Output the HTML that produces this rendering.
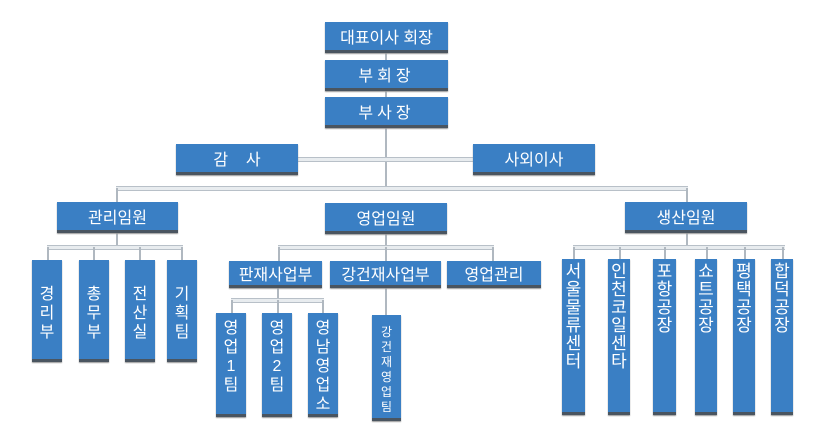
<!DOCTYPE html>
<html><head><meta charset="utf-8"><style>
body{margin:0;width:822px;height:436px;background:#fff;position:relative;overflow:hidden;font-family:"Liberation Sans","Noto Sans CJK KR","NanumGothic",sans-serif}
.b{position:absolute;background:#3a7fc4;color:#fff;box-sizing:border-box;border-bottom:3px solid #4a5560;box-shadow:0 1px 1px #999;display:flex;align-items:center;justify-content:center;font-size:16px;white-space:nowrap}
.v{position:absolute;background:#3a7fc4;color:#fff;box-sizing:border-box;border-bottom:3px solid #4a5560;box-shadow:0 1px 1px #999;text-align:center;font-size:16px;line-height:16px;padding-top:6px}
.h{position:absolute;height:3px;border-top:1px solid #b8c0c8;border-bottom:1px solid #b8c0c8;background:#e8ecef}
.l{position:absolute;width:2px;background:#b0b8c0}
</style></head><body>
<div class="l" style="left:385px;top:50px;height:140px"></div>
<div class="h" style="left:296px;top:157px;width:180px"></div>
<div class="h" style="left:116px;top:186px;width:572px"></div>
<div class="l" style="left:116px;top:188px;height:16px"></div>
<div class="l" style="left:686px;top:188px;height:16px"></div>
<div class="l" style="left:116px;top:230px;height:16px"></div>
<div class="l" style="left:385px;top:230px;height:16px"></div>
<div class="l" style="left:686px;top:230px;height:16px"></div>
<div class="h" style="left:47px;top:245px;width:136px"></div>
<div class="l" style="left:47px;top:247px;height:14px"></div>
<div class="l" style="left:93px;top:247px;height:14px"></div>
<div class="l" style="left:139px;top:247px;height:14px"></div>
<div class="l" style="left:181px;top:247px;height:14px"></div>
<div class="h" style="left:278px;top:245px;width:216px"></div>
<div class="l" style="left:278px;top:247px;height:14px"></div>
<div class="l" style="left:385px;top:247px;height:14px"></div>
<div class="l" style="left:492px;top:247px;height:14px"></div>
<div class="h" style="left:573px;top:245px;width:212px"></div>
<div class="l" style="left:573px;top:247px;height:13px"></div>
<div class="l" style="left:619px;top:247px;height:13px"></div>
<div class="l" style="left:664px;top:247px;height:13px"></div>
<div class="l" style="left:706px;top:247px;height:13px"></div>
<div class="l" style="left:744px;top:247px;height:13px"></div>
<div class="l" style="left:782px;top:247px;height:13px"></div>
<div class="l" style="left:277px;top:286px;height:14px"></div>
<div class="h" style="left:231px;top:298px;width:93px"></div>
<div class="l" style="left:231px;top:300px;height:14px"></div>
<div class="l" style="left:277px;top:300px;height:14px"></div>
<div class="l" style="left:322px;top:300px;height:14px"></div>
<div class="l" style="left:385px;top:286px;height:30px"></div>
<div class="b" style="left:325px;top:22px;width:123px;height:31px">대표이사 회장</div>
<div class="b" style="left:325px;top:60px;width:123px;height:31px;letter-spacing:4px">부회장</div>
<div class="b" style="left:325px;top:97px;width:123px;height:31px;letter-spacing:4px">부사장</div>
<div class="b" style="left:176px;top:144px;width:122px;height:31px">감&nbsp;&nbsp;&nbsp;&nbsp;사</div>
<div class="b" style="left:473px;top:144px;width:122px;height:31px">사외이사</div>
<div class="b" style="left:57px;top:202px;width:121px;height:31px">관리임원</div>
<div class="b" style="left:325px;top:203px;width:122px;height:31px">영업임원</div>
<div class="b" style="left:625px;top:202px;width:122px;height:31px">생산임원</div>
<div class="b" style="left:229px;top:261px;width:93px;height:27px">판재사업부</div>
<div class="b" style="left:330px;top:261px;width:111px;height:27px">강건재사업부</div>
<div class="b" style="left:447px;top:261px;width:94px;height:27px">영업관리</div>
<div class="v" style="left:32px;top:260px;width:30px;height:102px;padding-top:25px;line-height:19px">경<br>리<br>부</div>
<div class="v" style="left:79px;top:260px;width:30px;height:102px;padding-top:25px;line-height:19px">총<br>무<br>부</div>
<div class="v" style="left:125px;top:260px;width:30px;height:102px;padding-top:25px;line-height:19px">전<br>산<br>실</div>
<div class="v" style="left:167px;top:260px;width:30px;height:102px;padding-top:25px;line-height:19px">기<br>획<br>팀</div>
<div class="v" style="left:216px;top:313px;width:30px;height:104px;line-height:19px">영<br>업<br>1<br>팀</div>
<div class="v" style="left:262px;top:313px;width:30px;height:104px;line-height:19px">영<br>업<br>2<br>팀</div>
<div class="v" style="left:308px;top:313px;width:30px;height:104px;line-height:19px">영<br>남<br>영<br>업<br>소</div>
<div class="v" style="left:372px;top:315px;width:29px;height:106px;font-size:12px;line-height:15px;padding-top:10px">강<br>건<br>재<br>영<br>업<br>팀</div>
<div class="v" style="left:562px;top:259px;width:23px;height:156px;font-size:17px;line-height:18px;padding-top:4px">서<br>울<br>물<br>류<br>센<br>터</div>
<div class="v" style="left:608px;top:259px;width:22px;height:156px;font-size:17px;line-height:18px;padding-top:4px">인<br>천<br>코<br>일<br>센<br>타</div>
<div class="v" style="left:653px;top:259px;width:23px;height:156px;font-size:17px;line-height:18px;padding-top:4px">포<br>항<br>공<br>장</div>
<div class="v" style="left:695px;top:259px;width:22px;height:156px;font-size:17px;line-height:18px;padding-top:4px">쇼<br>트<br>공<br>장</div>
<div class="v" style="left:733px;top:259px;width:22px;height:156px;font-size:17px;line-height:18px;padding-top:4px">평<br>택<br>공<br>장</div>
<div class="v" style="left:771px;top:259px;width:22px;height:156px;font-size:17px;line-height:18px;padding-top:4px">합<br>덕<br>공<br>장</div>
</body></html>
